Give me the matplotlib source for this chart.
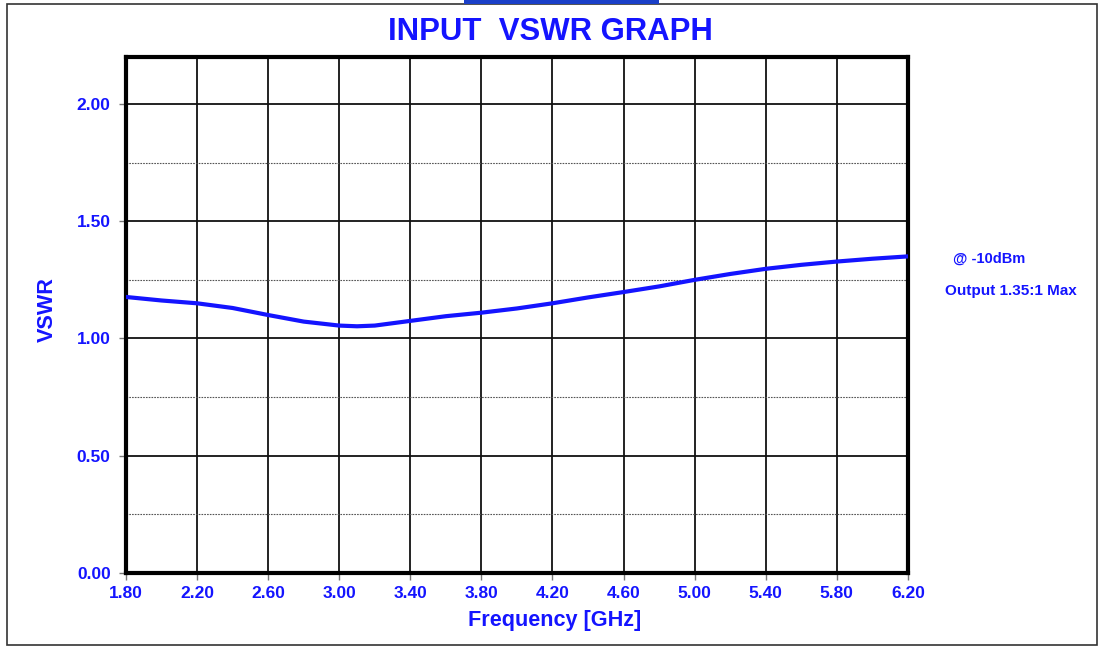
import matplotlib.pyplot as plt
from matplotlib.patches import Rectangle

plt.rcParams['font.family'] = ['Liberation Sans', 'DejaVu Sans']

# frequency (GHz) and input VSWR
freq = [1.8, 2.0, 2.2, 2.4, 2.6, 2.8, 3.0, 3.1, 3.2, 3.4, 3.6, 3.8, 4.0,
        4.2, 4.4, 4.6, 4.8, 5.0, 5.2, 5.4, 5.6, 5.8, 6.0, 6.2]
vswr = [1.177, 1.162, 1.150, 1.130, 1.100, 1.072, 1.055, 1.052, 1.055, 1.075,
        1.095, 1.110, 1.128, 1.150, 1.175, 1.198, 1.222, 1.250, 1.275, 1.297,
        1.314, 1.328, 1.340, 1.350]

xticks = [1.8, 2.2, 2.6, 3.0, 3.4, 3.8, 4.2, 4.6, 5.0, 5.4, 5.8, 6.2]
yticks = [0.0, 0.5, 1.0, 1.5, 2.0]
yminor = [0.25, 0.75, 1.25, 1.75]

blue = '#1414ff'

fig = plt.figure(figsize=(11.04, 6.48), dpi=100)
ax = fig.add_axes([0.1141, 0.1157, 0.7083, 0.7963])

# outer frame and the little blue bar at the top
fig.patches.append(Rectangle((7 / 1104, 3 / 648), 1090 / 1104, 641 / 648,
                             transform=fig.transFigure, fill=False,
                             edgecolor='#333333', linewidth=1.2))
fig.patches.append(Rectangle((464 / 1104, 644 / 648), 195 / 1104, 4 / 648,
                             transform=fig.transFigure, facecolor='#1a3fc8',
                             edgecolor='none'))

for x in xticks[1:-1]:
    ax.axvline(x, color='#111111', linewidth=1.3, zorder=1)
for y in yticks[1:]:
    ax.axhline(y, color='#111111', linewidth=1.3, zorder=1)
for y in yminor:
    ax.axhline(y, color='#555555', linewidth=0.8, linestyle=(0, (1.5, 1)), zorder=1)

ax.plot(freq, vswr, color=blue, linewidth=3, solid_capstyle='round', zorder=3)

ax.set_xlim(1.8, 6.2)
ax.set_ylim(0, 2.2)
ax.set_xticks(xticks)
ax.set_yticks(yticks)
ax.set_xticklabels([f'{v:.2f}' for v in xticks])
ax.set_yticklabels([f'{v:.2f}' for v in yticks])
ax.tick_params(direction='out', length=5, width=1, color='#777777',
               labelcolor=blue, labelsize=12.5)
ax.tick_params(axis='y', pad=6)
ax.tick_params(axis='x', pad=4.5)
for lab in ax.get_xticklabels() + ax.get_yticklabels():
    lab.set_fontweight('bold')
for s in ax.spines.values():
    s.set_linewidth(3)
    s.set_color('black')

fig.text(0.502, 0.043, 'Frequency [GHz]', color=blue, fontsize=15.6,
         fontweight='bold', ha='center', va='center')
fig.text(0.043, 0.522, 'VSWR', color=blue, fontsize=15.6, fontweight='bold',
         rotation=90, ha='center', va='center')

fig.text(0.4985, 0.951, 'INPUT  VSWR GRAPH', color=blue, fontsize=22.4,
         fontweight='bold', ha='center', va='center')
fig.text(0.896, 0.601, '@ -10dBm', color=blue, fontsize=10.5,
         fontweight='bold', ha='center', va='center')
fig.text(0.916, 0.551, 'Output 1.35:1 Max', color=blue, fontsize=11,
         fontweight='bold', ha='center', va='center')

fig.savefig('out.png', dpi=100)
